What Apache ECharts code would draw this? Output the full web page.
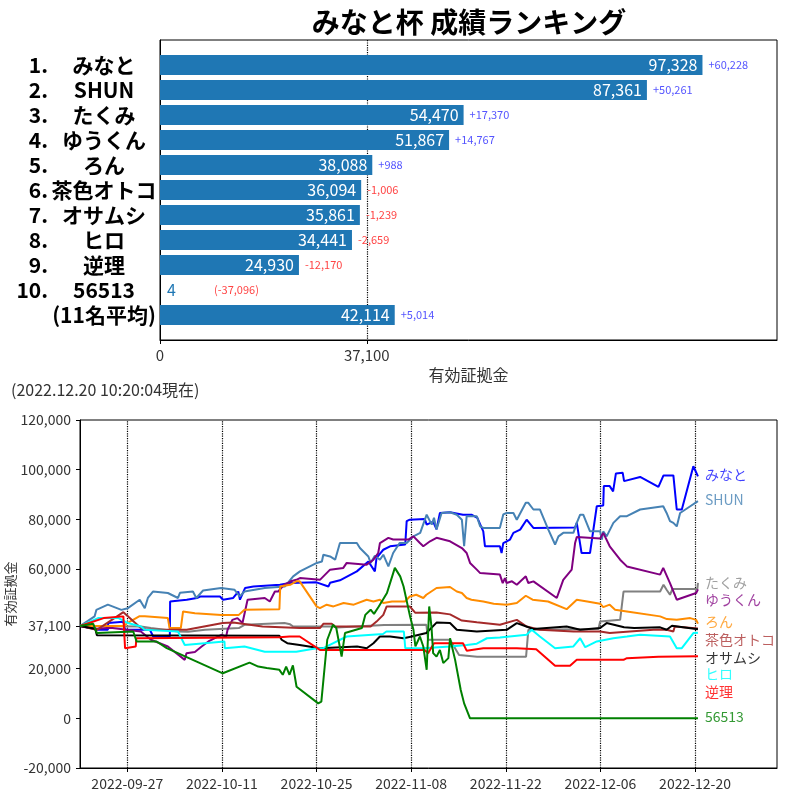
<!DOCTYPE html>
<html>
<head>
<meta charset="utf-8">
<script src="https://cdn.jsdelivr.net/npm/echarts@6/dist/echarts.min.js"></script>
<style>html,body{margin:0;padding:0;background:#fff}#c{width:800px;height:800px}</style>
</head>
<body>
<div id="c"></div>
<script>
// ---------- ranking (top chart) ----------
const rankLabels = ['1.', '2.', '3.', '4.', '5.', '6.', '7.', '8.', '9.', '10.', ''];
const rankNames = ['みなと', 'SHUN', 'たくみ', 'ゆうくん', 'ろん', '茶色オトコ', 'オサムシ', 'ヒロ', '逆理', '56513', '(11名平均)'];
const rankValues = [97328, 87361, 54470, 51867, 38088, 36094, 35861, 34441, 24930, 4, 42114];
const baseValue = 37100;
const topTicks = [0, 37100];

// ---------- history (bottom chart) ----------
const xTickDates = ['09-27 00', '10-11 00', '10-25 00', '11-08 00', '11-22 00', '12-06 00', '12-20 00'];
const yTicks = [-20000, 0, 20000, 37100, 60000, 80000, 100000, 120000];
const lineNames = ['みなと', 'SHUN', 'たくみ', 'ゆうくん', 'ろん', '茶色オトコ', 'オサムシ', 'ヒロ', '逆理', '56513'];

const minato = [['09-20 00',37100],['09-22 16',35600],['09-24 03',35600],['09-24 04',38300],['09-26 10',38800],['09-26 16',35600],['09-30 08',35600],['09-30 20',32900],['10-03 07',32900],['10-03 08',47000],['10-05 19',47700],['10-07 07',48400],['10-07 19',49000],['10-10 17',49000],['10-11 04',47700],['10-12 16',48400],['10-13 10',51000],['10-13 16',47700],['10-14 10',52400],['10-15 16',53000],['10-19 14',53700],['10-21 01',54400],['10-25 00',54700],['10-26 18',53000],['10-27 00',54500],['10-28 11',55500],['10-30 23',59100],['11-01 16',63100],['11-02 15',59100],['11-02 21',64500],['11-03 21',67800],['11-04 21',69200],['11-07 03',69900],['11-07 08',79300],['11-07 19',79900],['11-10 00',80200],['11-10 07',77900],['11-11 06',79100],['11-11 18',76000],['11-12 06',82600],['11-13 18',82900],['11-15 16',81900],['11-16 22',81900],['11-17 19',80600],['11-18 16',75200],['11-18 22',69200],['11-21 03',69200],['11-21 09',66500],['11-21 15',70500],['11-22 15',71900],['11-23 03',74600],['11-24 03',75900],['11-25 02',79900],['11-26 02',76600],['12-02 06',76800],['12-02 12',78600],['12-03 05',66500],['12-04 11',66500],['12-05 11',85300],['12-06 10',85600],['12-06 12',93400],['12-07 09',93400],['12-07 21',91300],['12-08 07',98500],['12-09 07',98800],['12-09 12',95400],['12-11 21',97100],['12-14 14',93100],['12-15 08',97700],['12-16 19',97700],['12-17 07',84000],['12-18 01',84000],['12-19 18',101400],['12-20 10:20',97328]];
const shun = [['09-20 00',37100],['09-22 04',41000],['09-22 10',43600],['09-24 03',45700],['09-26 03',43600],['09-27 02',44300],['09-28 20',47700],['09-29 14',44300],['09-30 01',48400],['09-30 19',51000],['10-03 00',50400],['10-04 12',48400],['10-04 19',50500],['10-06 17',51000],['10-07 05',48400],['10-08 05',51400],['10-10 21',52400],['10-12 21',51700],['10-13 15',49000],['10-14 08',51000],['10-17 08',52400],['10-20 07',53000],['10-21 13',57100],['10-22 13',59100],['10-25 01',62500],['10-25 19',63100],['10-26 00',65800],['10-27 00',65100],['10-27 18',63800],['10-28 11',70500],['10-30 23',70500],['10-31 10',68500],['11-01 16',65100],['11-02 00',62500],['11-02 15',65400],['11-03 09',63800],['11-03 21',65800],['11-04 15',61100],['11-05 08',66500],['11-06 07',70500],['11-07 08',70500],['11-08 08',73200],['11-09 08',74600],['11-10 07',81900],['11-11 01',77900],['11-11 09',80700],['11-11 18',76000],['11-12 12',82600],['11-13 18',82900],['11-14 18',81900],['11-15 12',79900],['11-15 20',69200],['11-16 05',81300],['11-17 17',81300],['11-18 05',77200],['11-18 16',76600],['11-21 03',76600],['11-21 15',82000],['11-22 03',82600],['11-23 03',82600],['11-23 15',79900],['11-24 23',86700],['11-25 08',86700],['11-26 02',84000],['11-27 01',84000],['11-28 07',75900],['11-29 07',69900],['11-29 19',73200],['11-30 12',74600],['12-02 00',74600],['12-02 12',78600],['12-03 00',81900],['12-03 11',81900],['12-04 11',75200],['12-05 23',75200],['12-06 05',71900],['12-06 10',75200],['12-06 22',73200],['12-07 22',78600],['12-08 22',81300],['12-09 22',81300],['12-11 21',84000],['12-15 07',85300],['12-15 19',82600],['12-16 07',79300],['12-16 19',78600],['12-17 07',77200],['12-17 19',82600],['12-19 07',85300],['12-20 10:20',87361]];
const takumi = [['09-20 00',37100],['09-29 00',36900],['09-30 12',36300],['10-04 12',34900],['10-06 00',34800],['10-08 12',35600],['10-13 12',36300],['10-14 08',37600],['10-20 06',38300],['10-21 02',37800],['10-21 13',36900],['10-27 12',36900],['10-28 00',36500],['11-04 00',37500],['11-10 06',37600],['11-10 12',31600],['11-13 18',31600],['11-15 02',25500],['11-17 18',24800],['11-25 00',24800],['11-25 08',35600],['12-05 17',35900],['12-05 23',38900],['12-08 22',39600],['12-09 10',51000],['12-14 20',51000],['12-15 08',53700],['12-15 19',51700],['12-16 07',49700],['12-16 16',52000],['12-20 08',52000],['12-20 10:20',54470]];
const yukun = [['09-20 00',37100],['09-22 12',36000],['09-24 12',36400],['09-29 00',34900],['09-30 12',31600],['10-03 00',28900],['10-05 12',23500],['10-05 18',26200],['10-07 00',26700],['10-08 00',28900],['10-09 00',30900],['10-10 22',33600],['10-11 15',32900],['10-11 20',35600],['10-12 13',39600],['10-13 07',40300],['10-14 01',38300],['10-14 19',47700],['10-17 08',48400],['10-18 02',47000],['10-18 20',51000],['10-19 08',51000],['10-20 04',53700],['10-21 05',55100],['10-22 00',55700],['10-22 13',56400],['10-25 12',55700],['10-27 00',59800],['10-28 23',60500],['10-29 11',62500],['11-01 10',61800],['11-02 10',63800],['11-03 03',66500],['11-03 09',70500],['11-04 15',72600],['11-05 08',71900],['11-07 14',71900],['11-08 08',73200],['11-09 07',70500],['11-09 19',69200],['11-10 19',71200],['11-11 18',72600],['11-13 18',71200],['11-15 12',68500],['11-16 05',66500],['11-16 17',62500],['11-17 17',59800],['11-18 05',58400],['11-21 03',57800],['11-21 13',54400],['11-21 21',56400],['11-22 03',54400],['11-22 22',55100],['11-23 15',53700],['11-24 23',57100],['11-25 08',54400],['11-26 02',55100],['11-29 13',48400],['11-30 12',55700],['12-01 18',59800],['12-02 06',70500],['12-02 12',72900],['12-05 23',72300],['12-06 10',74600],['12-07 09',69200],['12-08 22',63800],['12-09 22',61100],['12-14 20',57800],['12-15 07',60500],['12-16 07',54400],['12-17 07',47700],['12-20 04',50400],['12-20 10:20',51867]];
const ron = [['09-20 00',37100],['09-26 12',37100],['09-27 00',38300],['09-28 18',41000],['09-29 14',41000],['10-03 00',40300],['10-03 06',36300],['10-04 22',36300],['10-05 06',43000],['10-07 00',42300],['10-10 22',41600],['10-13 12',41600],['10-14 08',43700],['10-19 12',43900],['10-19 15',53000],['10-21 02',53700],['10-22 00',55100],['10-22 12',55100],['10-25 00',45000],['10-25 12',44300],['10-26 12',45700],['10-27 12',45000],['10-29 00',46400],['10-30 12',45700],['11-01 10',47700],['11-02 10',47000],['11-03 09',47700],['11-03 21',46400],['11-05 04',47000],['11-07 02',47000],['11-07 19',49000],['11-08 18',49700],['11-09 19',48400],['11-10 06',49700],['11-11 18',52400],['11-13 18',52800],['11-14 18',51000],['11-15 12',50400],['11-16 05',48400],['11-16 22',47700],['11-18 16',47000],['11-20 05',46100],['11-22 03',45700],['11-23 15',46400],['11-24 23',49300],['11-25 23',47700],['11-28 06',47000],['12-01 00',43900],['12-02 12',47700],['12-04 01',47000],['12-05 23',46100],['12-06 10',44700],['12-07 09',45700],['12-08 04',43700],['12-08 22',43400],['12-09 22',43000],['12-14 20',41000],['12-15 20',39900],['12-17 07',39600],['12-19 07',40300],['12-20 04',39600],['12-20 10:20',38088]];
const chairo = [['09-20 00',37100],['09-22 12',35600],['09-26 10',42700],['09-29 00',36300],['09-29 18',35600],['10-05 19',35600],['10-11 03',38300],['10-12 16',38500],['10-17 00',36900],['10-22 12',36300],['10-25 12',36300],['10-26 00',38000],['10-27 06',38000],['10-27 18',36900],['11-02 00',36900],['11-02 21',38900],['11-03 21',41600],['11-04 09',45000],['11-07 19',45000],['11-08 14',42500],['11-11 18',42600],['11-13 18',41800],['11-15 12',39300],['11-17 17',38600],['11-21 03',37600],['11-23 15',39600],['11-25 02',36900],['11-27 01',35600],['12-02 00',34900],['12-05 23',34900],['12-07 09',34300],['12-13 20',35600],['12-15 19',35600],['12-16 19',34900],['12-17 00',36900],['12-20 10:20',36094]];
const osamushi = [['09-20 00',37100],['09-22 06',36000],['09-22 12',33400],['10-19 12',33200],['10-19 20',31600],['10-20 16',30200],['10-22 12',29500],['10-25 12',28200],['10-31 00',28900],['11-01 10',28200],['11-02 10',30200],['11-03 09',32900],['11-04 21',32900],['11-06 21',32200],['11-08 02',32900],['11-10 06',34300],['11-11 18',38500],['11-13 18',38300],['11-14 18',35600],['11-17 17',34900],['11-22 03',35600],['11-23 15',38300],['11-26 02',35900],['12-01 00',36900],['12-03 00',35600],['12-05 23',36300],['12-06 22',38300],['12-09 12',36600],['12-11 00',36300],['12-14 20',36600],['12-15 19',35600],['12-16 14',37200],['12-20 10:20',35861]];
const hiro = [['09-20 00',37100],['09-21 06',38600],['09-22 16',40300],['09-25 17',40300],['09-27 02',38300],['09-29 00',36900],['09-29 14',35600],['10-04 12',34900],['10-05 12',29500],['10-11 09',30900],['10-11 10',28200],['10-14 08',28900],['10-17 08',26800],['10-22 00',26800],['10-25 00',28200],['10-26 00',28200],['10-29 11',32900],['11-03 20',33900],['11-04 08',34900],['11-06 22',34900],['11-07 03',28200],['11-09 19',28200],['11-13 18',28900],['11-16 05',29500],['11-17 17',30000],['11-19 05',32200],['11-21 03',32500],['11-25 02',33600],['11-25 20',35600],['11-27 01',32900],['11-29 07',28200],['12-02 00',28900],['12-03 00',32200],['12-03 18',28600],['12-05 11',30900],['12-07 22',32200],['12-09 22',32900],['12-11 21',33600],['12-16 07',32900],['12-17 07',28200],['12-18 01',28200],['12-19 18',34300],['12-20 10:20',34441]];
const gyakuri = [['09-20 00',37100],['09-23 12',40300],['09-26 10',41000],['09-26 16',28200],['09-28 06',28900],['09-28 08',32200],['10-19 12',32600],['10-21 00',32900],['10-22 12',32900],['10-25 12',27500],['11-10 00',27500],['11-10 12',26200],['11-11 09',30200],['11-15 16',30200],['11-16 05',27200],['11-18 16',28200],['11-23 15',28200],['11-26 12',27800],['11-29 07',21100],['12-01 12',21100],['12-01 18',20600],['12-02 12',23500],['12-09 10',23500],['12-09 22',24200],['12-14 14',24800],['12-14 20',25200],['12-20 10:20',24930]];
const num56513 = [['09-20 00',37100],['09-21 23',38000],['09-22 12',34300],['09-27 21',34900],['09-28 09',30900],['10-01 08',30900],['10-02 20',28200],['10-11 03',18100],['10-15 02',22400],['10-16 09',20800],['10-17 15',20200],['10-19 12',19500],['10-20 00',17500],['10-20 12',20800],['10-21 00',17500],['10-21 12',21300],['10-22 01',12700],['10-25 06',6000],['10-25 17',6700],['10-26 14',31600],['10-27 10',37600],['10-27 22',36300],['10-28 17',24800],['10-29 05',34300],['10-31 17',36300],['11-01 05',41600],['11-02 00',43700],['11-02 12',42000],['11-03 05',45000],['11-04 10',50400],['11-05 14',60500],['11-06 09',57100],['11-06 21',53000],['11-07 20',41000],['11-08 08',35600],['11-08 15',28900],['11-09 07',32900],['11-09 19',28900],['11-10 07',19500],['11-10 16',45000],['11-11 00',36900],['11-11 06',26200],['11-11 18',24800],['11-12 06',27500],['11-12 18',22200],['11-13 12',24200],['11-13 18',32200],['11-14 12',23500],['11-15 08',11400],['11-15 20',6000],['11-16 17',0],['12-20 10:20',4]];

const lineData = [minato, shun, takumi, yukun, ron, chairo, osamushi, hiro, gyakuri, num56513];

// styles (not data)
const lineColors = ['#0000ff', '#4682b4', '#808080', '#800080', '#ff8c00', '#a52a2a', '#000000', '#00ffff', '#ff0000', '#008000'];
const labelColors = ['rgba(0,0,255,0.75)', 'rgba(70,130,180,0.8)', 'rgba(128,128,128,0.75)', 'rgba(128,0,128,0.75)', 'rgba(255,140,0,0.75)', 'rgba(165,42,42,0.75)', 'rgba(0,0,0,0.8)', 'rgba(0,255,255,0.8)', 'rgba(255,0,0,0.8)', 'rgba(0,128,0,0.8)'];
const labelShiftY = [-2, -1, 0, 10, -2, 11, 29, 41, 35, -1.5];

// ---------- helpers ----------
function toTime(s) {
  const [md, hm] = s.split(' ');
  const [mo, d] = md.split('-').map(Number);
  const parts = hm.split(':').map(Number);
  const y = mo >= 9 ? 2022 : 2023;
  return new Date(y, mo - 1, d, parts[0], parts[1] || 0).getTime();
}
const fmt = v => Math.round(v).toLocaleString('en-US');
function fmtDate(t) {
  const d = new Date(t);
  const p = n => String(n).padStart(2, '0');
  return d.getFullYear() + '-' + p(d.getMonth() + 1) + '-' + p(d.getDate());
}

const FONT = '"Noto Sans CJK JP", "Noto Sans", sans-serif';
const barColor = '#1f77b4';

const barData = ['-'].concat(rankValues.map(v => {
  const item = { value: v };
  if (v < 10000) item.label = { position: 'right', color: barColor, distance: 7 };
  return item;
}), ['-']);

const deltaData = ['-'].concat(rankValues.map(v => {
  const item = { value: v };
  if (v < 10000) item.label = { distance: 54 };
  return item;
}), ['-']);

function deltaText(v) {
  const d = v - baseValue;
  const s = (d >= 0 ? '+' : '-') + fmt(Math.abs(d));
  const txt = v < 10000 ? '(' + s + ')' : s;
  return d >= 0 ? '{p|' + txt + '}' : '{n|' + txt + '}';
}

const xTickTimes = xTickDates.map(toTime);

const lineSeries = lineData.map((arr, i) => ({
  type: 'line',
  name: lineNames[i],
  xAxisIndex: 1,
  yAxisIndex: 1,
  data: arr.map(p => [toTime(p[0]), p[1]]),
  showSymbol: false,
  symbol: 'none',
  lineStyle: { width: 2, color: lineColors[i] },
  itemStyle: { color: lineColors[i] },
  z: 3 + i * 0.01,
  endLabel: {
    show: true,
    formatter: lineNames[i],
    color: labelColors[i],
    fontSize: 14,
    fontFamily: FONT,
    distance: 7,
    offset: [0, labelShiftY[i]]
  },
  emphasis: { disabled: true },
  animation: false
}));

lineSeries[0].markLine = {
  silent: true,
  z: 1,
  symbol: ['none', 'none'],
  label: { show: false },
  lineStyle: { type: 'dotted', color: '#000', width: 1.2 },
  data: xTickTimes.map(t => ({ xAxis: t })),
  animation: false
};

const boldLabel = { fontSize: 21, fontWeight: 'bold', color: '#000', fontFamily: FONT };

const option = {
  animation: false,
  textStyle: { fontFamily: FONT },
  title: [
    { text: 'みなと杯 成績ランキング', left: 464, textAlign: 'center', top: 3,
      textStyle: { fontSize: 28, fontWeight: 'bold', color: '#000', fontFamily: FONT } },
    { text: '(2022.12.20 10:20:04現在)', left: 6, top: 377,
      textStyle: { fontSize: 16, fontWeight: 'normal', color: '#333', fontFamily: FONT } }
  ],
  grid: [
    { left: 160, right: 23, top: 40, bottom: 460, show: true, borderColor: '#000', borderWidth: 1, backgroundColor: 'transparent', outerBoundsMode: 'none', containLabel: false },
    { left: 80, right: 23, top: 420, bottom: 32, show: true, borderColor: '#000', borderWidth: 1, backgroundColor: 'transparent', outerBoundsMode: 'none', containLabel: false }
  ],
  xAxis: [
    {
      type: 'value', gridIndex: 0, min: 0, max: 110700,
      axisLine: { show: true, onZero: false, lineStyle: { color: '#000' } },
      axisTick: { show: true, customValues: topTicks, length: 4, lineStyle: { color: '#000' } },
      axisLabel: { customValues: topTicks, formatter: v => fmt(v), fontSize: 15, color: '#333', margin: 8 },
      splitLine: { show: false },
      name: '有効証拠金', nameLocation: 'middle', nameGap: 27, nameMoveOverlap: false,
      nameTextStyle: { fontSize: 16, color: '#333' }
    },
    {
      type: 'value', gridIndex: 1, min: toTime('09-20 00'), max: toTime('01-01 03'),
      axisLine: { show: true, onZero: false, lineStyle: { color: '#000' } },
      axisTick: { show: true, customValues: xTickTimes, length: 4, lineStyle: { color: '#000' } },
      axisLabel: { customValues: xTickTimes, formatter: v => fmtDate(v), fontSize: 14, color: '#333', margin: 9 },
      splitLine: { show: false }
    }
  ],
  yAxis: [
    {
      type: 'category', gridIndex: 0, inverse: true, boundaryGap: false,
      data: [''].concat(rankNames, ['']),
      axisLine: { show: true, onZero: false, lineStyle: { color: '#000' } },
      axisTick: { show: false },
      splitLine: { show: false },
      axisLabel: Object.assign({ interval: 0, margin: 56, align: 'center' }, boldLabel)
    },
    {
      type: 'value', gridIndex: 1, min: -20000, max: 120000,
      axisLine: { show: true, onZero: false, lineStyle: { color: '#000' } },
      axisTick: { show: true, customValues: yTicks, length: 4, lineStyle: { color: '#000' } },
      axisLabel: { customValues: yTicks, formatter: v => fmt(v), fontSize: 14, color: '#333', margin: 9 },
      splitLine: { show: false },
      name: '有効証拠金', nameLocation: 'middle', nameGap: 63, nameMoveOverlap: false,
      nameTextStyle: { fontSize: 13, color: '#333' }
    },
    {
      type: 'category', gridIndex: 0, inverse: true, boundaryGap: false, position: 'left', offset: 0,
      data: [''].concat(rankLabels, ['']),
      axisLine: { show: false },
      axisTick: { show: false },
      splitLine: { show: false },
      axisLabel: Object.assign({ interval: 0, margin: 112, align: 'right' }, boldLabel)
    }
  ],
  series: [
    {
      type: 'bar', xAxisIndex: 0, yAxisIndex: 0, barWidth: 20, data: barData,
      itemStyle: { color: barColor },
      label: { show: true, position: 'insideRight', distance: 5, color: '#fff', fontSize: 16, formatter: p => fmt(p.value) },
      emphasis: { disabled: true },
      z: 3
    },
    {
      type: 'bar', xAxisIndex: 0, yAxisIndex: 0, barWidth: 20, barGap: '-100%', data: deltaData,
      itemStyle: { color: 'rgba(0,0,0,0)' },
      label: {
        show: true, position: 'right', distance: 6,
        formatter: p => deltaText(p.value),
        rich: {
          p: { color: '#5555ff', fontSize: 11, fontFamily: FONT },
          n: { color: '#ff4444', fontSize: 11, fontFamily: FONT }
        }
      },
      emphasis: { disabled: true },
      markLine: {
        silent: true, z: 1, symbol: ['none', 'none'], label: { show: false },
        lineStyle: { type: 'dotted', color: '#000', width: 1.2 },
        data: [{ xAxis: baseValue }], animation: false
      },
      z: 1
    }
  ].concat(lineSeries)
};

const chart = echarts.init(document.getElementById('c'), null, { renderer: 'canvas' });
chart.setOption(option);
</script>
</body>
</html>
